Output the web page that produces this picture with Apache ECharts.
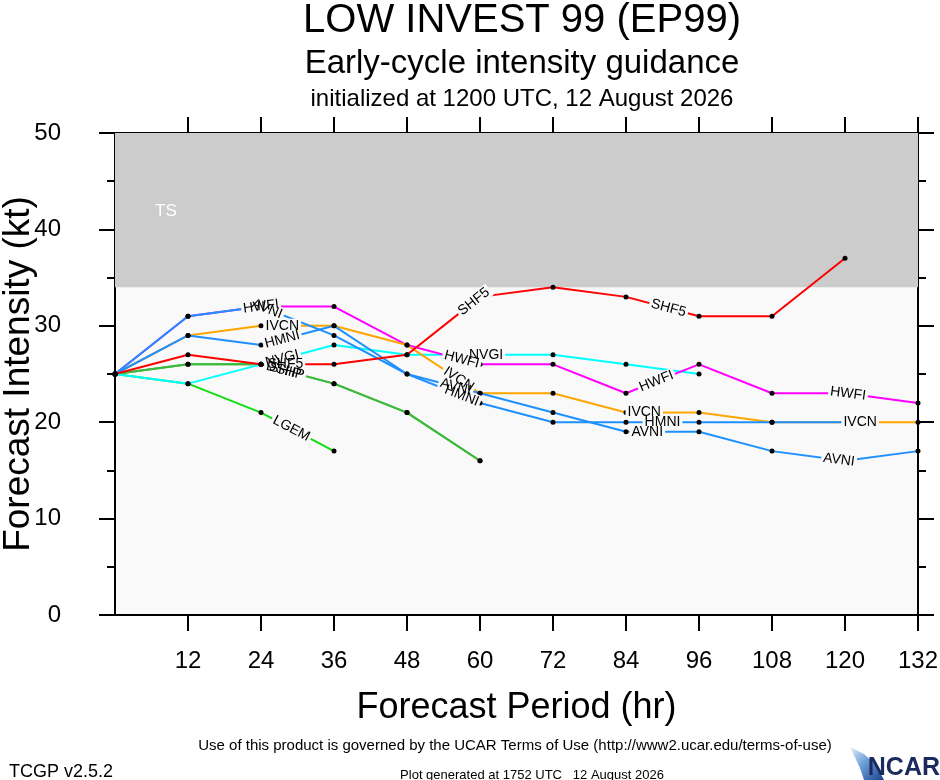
<!DOCTYPE html>
<html lang="en">
  <head>
    <meta charset="UTF-8" />
    <title>LOW INVEST 99 (EP99) intensity guidance</title>
    <script src="https://cdn.jsdelivr.net/npm/echarts@6/dist/echarts.min.js"></script>
  </head>
  <body style="margin: 0; background: #fff">
    <div id="container" style="width: 940px; height: 780px"></div>
    <script>
      // forecast hours (x axis) and ticks
      const hours = [0, 12, 24, 36, 48, 60, 72, 84, 96, 108, 120, 132];
      const xTicks = [12, 24, 36, 48, 60, 72, 84, 96, 108, 120, 132];
      const yTicks = [0, 10, 20, 30, 40, 50];

      // intensity (kt) per model, one value per forecast hour
      const SHIP = [25, 26, 26, 24, 21, 16];
      const DSHP = [25, 26, 26, 24, 21, 16];
      const LGEM = [25, 24, 21, 17];
      const NVGI = [25, 24, 26, 28, 27, 27, 27, 26, 25];
      const HWFI = [25, 31, 32, 32, 28, 26, 26, 23, 26, 23, 23, 22];
      const IVCN = [25, 29, 30, 30, 28, 23, 23, 21, 21, 20, 20, 20];
      const HMNI = [25, 29, 28, 30, 25, 22, 20, 20, 20, 20, 20];
      const AVNI = [25, 31, 32, 29, 25, 23, 21, 19, 19, 17, 16, 17];
      const SHF5 = [25, 27, 26, 26, 27, 33, 34, 33, 31, 31, 37];

      // tropical storm band
      const tsBand = [34, 50];

      const FONT = "Liberation Sans";
      const PLOT_BG = "#f9f9f9";

      // colour + where along the line (hour) the model name is written
      const models = [
        { name: "SHIP", values: SHIP, color: "#3cb93c", labelAt: [28] },
        { name: "DSHP", values: DSHP, color: "#3cb93c", labelAt: [28] },
        { name: "LGEM", values: LGEM, color: "#11dd11", labelAt: [29] },
        { name: "NVGI", values: NVGI, color: "#00ffff", labelAt: [27.5, 61] },
        { name: "HWFI", values: HWFI, color: "#ff00ff", labelAt: [24, 57, 89, 120.5] },
        { name: "IVCN", values: IVCN, color: "#ffa500", labelAt: [27.5, 56.5, 87, 122.5] },
        { name: "HMNI", values: HMNI, color: "#1e90ff", labelAt: [27.5, 57, 90] },
        { name: "AVNI", values: AVNI, color: "#1e90ff", labelAt: [25, 56, 87.5, 119] },
        { name: "SHF5", values: SHF5, color: "#ff0000", labelAt: [28, 59, 91] }
      ];

      const chart = echarts.init(document.getElementById("container"));

      const tickStyle = { color: "#000", width: 2 };

      const series = models.map((m, k) => {
        const s = {
          name: m.name,
          type: "line",
          data: m.values.map((v, i) => [hours[i], v]),
          symbol: "circle",
          symbolSize: 5,
          showSymbol: true,
          itemStyle: { color: "#000" },
          lineStyle: { color: m.color, width: 2 },
          emphasis: { disabled: true },
          silent: true
        };
        if (k === 0) {
          s.markArea = {
            silent: true,
            itemStyle: { color: "#cccccc" },
            label: {
              show: true,
              position: [40, 70],
              color: "#fff",
              fontFamily: FONT,
              fontSize: 17
            },
            data: [[{ yAxis: tsBand[0], name: "TS" }, { yAxis: tsBand[1] }]]
          };
        }
        return s;
      });

      const option = {
        animation: false,
        textStyle: { fontFamily: FONT },
        title: [
          {
            text: "LOW INVEST 99 (EP99)",
            left: 517,
            top: -4,
            textAlign: "center",
            textStyle: { fontFamily: FONT, fontSize: 40, fontWeight: "normal", color: "#000" }
          },
          {
            text: "Early-cycle intensity guidance",
            left: 517,
            top: 42,
            textAlign: "center",
            textStyle: { fontFamily: FONT, fontSize: 33, fontWeight: "normal", color: "#000" }
          },
          {
            text: "initialized at 1200 UTC, 12 August 2026",
            left: 517,
            top: 82,
            textAlign: "center",
            textStyle: { fontFamily: FONT, fontSize: 24, fontWeight: "normal", color: "#000" }
          },
          {
            text: "Use of this product is governed by the UCAR Terms of Use (http://www2.ucar.edu/terms-of-use)",
            left: 510,
            top: 733,
            textAlign: "center",
            textStyle: { fontFamily: FONT, fontSize: 15, fontWeight: "normal", color: "#000" }
          },
          {
            text: "TCGP v2.5.2",
            left: 4,
            top: 758,
            textStyle: { fontFamily: FONT, fontSize: 18, fontWeight: "normal", color: "#000" }
          },
          {
            text: "Plot generated at 1752 UTC   12 August 2026",
            left: 527,
            top: 764,
            textAlign: "center",
            textStyle: { fontFamily: FONT, fontSize: 13, fontWeight: "normal", color: "#000" }
          }
        ],
        grid: {
          left: 115,
          right: 22,
          top: 133,
          bottom: 165,
          outerBoundsMode: "none",
          containLabel: false,
          show: true,
          backgroundColor: PLOT_BG,
          borderWidth: 0
        },
        xAxis: [
          {
            type: "value",
            min: hours[0],
            max: hours[hours.length - 1],
            interval: 12,
            position: "bottom",
            name: "Forecast Period (hr)",
            nameLocation: "middle",
            nameGap: 75,
            nameMoveOverlap: false,
            nameTextStyle: { fontFamily: FONT, fontSize: 36, color: "#000" },
            axisLine: { show: true, onZero: false, lineStyle: tickStyle },
            axisTick: {
              show: true,
              inside: false,
              length: 16,
              customValues: xTicks,
              lineStyle: tickStyle
            },
            axisLabel: {
              fontFamily: FONT,
              fontSize: 24,
              color: "#000",
              margin: 34,
              formatter: v => (v === 0 ? "" : String(v))
            },
            splitLine: { show: false }
          },
          {
            type: "value",
            min: hours[0],
            max: hours[hours.length - 1],
            interval: 12,
            position: "top",
            axisLine: { show: true, onZero: false, lineStyle: tickStyle },
            axisTick: {
              show: true,
              inside: false,
              length: 16,
              customValues: xTicks,
              lineStyle: tickStyle
            },
            axisLabel: { show: false },
            splitLine: { show: false }
          }
        ],
        yAxis: [
          {
            type: "value",
            min: yTicks[0],
            max: yTicks[yTicks.length - 1],
            interval: 10,
            position: "left",
            name: "Forecast Intensity (kt)",
            nameLocation: "middle",
            nameGap: 78,
            nameMoveOverlap: false,
            nameTextStyle: { fontFamily: FONT, fontSize: 37, color: "#000" },
            axisLine: { show: true, onZero: false, lineStyle: tickStyle },
            axisTick: { show: true, inside: false, length: 16, lineStyle: tickStyle },
            minorTick: { show: true, splitNumber: 2, length: 8, lineStyle: tickStyle },
            axisLabel: { fontFamily: FONT, fontSize: 24, color: "#000", margin: 54 },
            splitLine: { show: false }
          },
          {
            type: "value",
            min: yTicks[0],
            max: yTicks[yTicks.length - 1],
            interval: 10,
            position: "right",
            axisLine: { show: true, onZero: false, lineStyle: tickStyle },
            axisTick: { show: true, inside: false, length: 16, lineStyle: tickStyle },
            minorTick: { show: true, splitNumber: 2, length: 8, lineStyle: tickStyle },
            axisLabel: { show: false },
            splitLine: { show: false }
          }
        ],
        series: series
      };

      chart.setOption(option);

      // model names written along each line, with a gap cut out under them
      const backs = [];
      const texts = [];
      models.forEach(m => {
        m.labelAt.forEach(h => {
          let i = 0;
          while (i < m.values.length - 2 && hours[i + 1] < h) i++;
          const a = chart.convertToPixel({ gridIndex: 0 }, [hours[i], m.values[i]]);
          const b = chart.convertToPixel({ gridIndex: 0 }, [hours[i + 1], m.values[i + 1]]);
          const t = (h - hours[i]) / (hours[i + 1] - hours[i]);
          const x = a[0] + (b[0] - a[0]) * t;
          const y = a[1] + (b[1] - a[1]) * t;
          const rot = Math.atan2(a[1] - b[1], b[0] - a[0]);
          const base = {
            text: m.name,
            fontFamily: FONT,
            fontSize: 14,
            align: "center",
            verticalAlign: "middle",
            textAlign: "center",
            textVerticalAlign: "middle"
          };
          backs.push({
            type: "text",
            x: x,
            y: y,
            rotation: rot,
            z: 50,
            silent: true,
            style: Object.assign({}, base, {
              fill: "rgba(0,0,0,0)",
              backgroundColor: PLOT_BG,
              padding: [0, 2]
            })
          });
          texts.push({
            type: "text",
            x: x,
            y: y,
            rotation: rot,
            z: 51,
            silent: true,
            style: Object.assign({}, base, { fill: "#000" })
          });
        });
      });

      // NCAR mark
      const logo = [
        {
          type: "polygon",
          z: 10,
          shape: {
            points: [[850, 747], [864, 754], [876, 765], [884, 780], [864, 780], [860, 768]]
          },
          style: {
            fill: new echarts.graphic.LinearGradient(0, 0, 1, 1, [
              { offset: 0, color: "#e8f0fa" },
              { offset: 0.45, color: "#6a9fd8" },
              { offset: 1, color: "#1c3f8c" }
            ])
          }
        },
        {
          type: "text",
          z: 11,
          x: 940,
          y: 768,
          style: {
            text: "NCAR",
            fontFamily: FONT,
            fontSize: 25,
            fontWeight: "bold",
            fill: "#1b2a5c",
            align: "right",
            verticalAlign: "middle",
            textAlign: "right",
            textVerticalAlign: "middle"
          }
        }
      ];

      chart.setOption({ graphic: backs.concat(texts, logo) });
    </script>
  </body>
</html>
